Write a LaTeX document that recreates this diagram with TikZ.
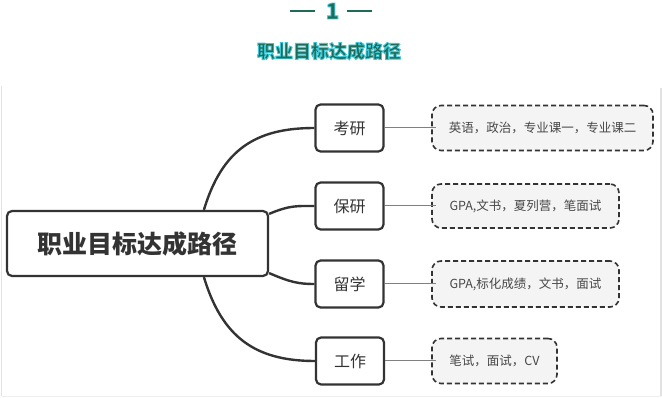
\documentclass[tikz,border=0pt]{standalone}
\usepackage{fontspec}
\setmainfont{Noto Sans CJK SC}
\usetikzlibrary{calc}
\definecolor{tgreen}{HTML}{1F6B57}
\definecolor{torange}{HTML}{F2B184}
\definecolor{tcyan}{HTML}{3FC6D6}
\definecolor{boxline}{HTML}{333333}
\definecolor{leaffill}{HTML}{F4F4F4}
\definecolor{frameline}{HTML}{E2E2E2}
\newcommand{\outlined}[1]{\special{pdf:literal direct 2 Tr 0.9 w 0.247 0.776 0.839 RG}#1\special{pdf:literal direct 0 Tr}}
\tikzset{
  mainbox/.style={draw=boxline, line width=2.2pt, rounded corners=5pt, fill=white,
    minimum width=261pt, minimum height=65pt, inner sep=0pt,
    font=\fontsize{25}{25}\selectfont\bfseries, text=boxline},
  branchbox/.style={draw=boxline, line width=2.2pt, rounded corners=5pt, fill=white,
    minimum width=68pt, minimum height=47pt, inner sep=0pt,
    font=\fontsize{16}{16}\selectfont, text=boxline},
  leafbox/.style={draw=boxline, line width=1.6pt, dash pattern=on 5pt off 3pt,
    rounded corners=9pt, fill=leaffill, minimum height=45pt, inner sep=0pt,
    font=\fontsize{12.5}{12.5}\selectfont, text=black!72},
  trunk/.style={draw=boxline, line width=2.4pt},
  twig/.style={draw=black!50, line width=1pt},
  titletext/.style={inner sep=0pt, text=tgreen, font=\fontsize{18}{18}\selectfont\bfseries},
  numtext/.style={inner sep=0pt, text=tgreen, font=\fontsize{22}{22}\selectfont\bfseries},
  titleline/.style={draw=tgreen, line width=1.2pt}
}
\begin{document}
\begin{tikzpicture}[x=1pt, y=-1pt]
\useasboundingbox (0,0) rectangle (662,398);
% frame of the screenshot
\draw[frameline, line width=1.2pt] (1.5,86) -- (1.5,396);
\draw[frameline, line width=2pt] (661,88) -- (661,396);
\draw[frameline!60, line width=1pt] (1.5,396.5) -- (661,396.5);
% title
\coordinate (tl1) at (290,11);
\coordinate (tl2) at (315,11);
\coordinate (tr1) at (347,11);
\coordinate (tr2) at (372,11);
\draw[titleline] (tl1) -- (tl2);
\draw[titleline] (tr1) -- (tr2);
\node[numtext] (num) at (332.5,11) {\outlined{1}};
\node[titletext] (title) at (329,51) {\outlined{职业目标达成路径}};
% nodes
\node[mainbox] (main) at (137.5,243.5) {职业目标达成路径};
\node[branchbox] (b1) at (349.5,128) {考研};
\node[branchbox] (b2) at (349.5,206) {保研};
\node[branchbox] (b3) at (349.5,284) {留学};
\node[branchbox] (b4) at (350,361) {工作};
\node[leafbox, minimum width=221pt] (l1) at (542.5,128) {英语，政治，专业课一，专业课二};
\node[leafbox, minimum width=187pt, minimum height=44pt] (l2) at (525.5,206) {GPA,文书，夏列营，笔面试};
\node[leafbox, minimum width=187pt, minimum height=46pt] (l3) at (525.5,284) {GPA,标化成绩，文书，面试};
\node[leafbox, minimum width=125pt] (l4) at (494.5,361) {笔试，面试，CV};
% trunks
\draw[trunk] ([xshift=198pt]main.north west) .. controls (222,150) and (255,128) .. (b1.west);
\draw[trunk] ([yshift=-4pt]main.north east) .. controls (290,205) and (298,206) .. (b2.west);
\draw[trunk] ([yshift=4pt]main.south east) .. controls (290,282) and (298,284) .. (b3.west);
\draw[trunk] ([xshift=198pt]main.south west) .. controls (222,337) and (255,361) .. (b4.west);
% twigs
\draw[twig] (b1.east) -- ([xshift=5pt]l1.west);
\draw[twig] (b2.east) -- ([xshift=5pt]l2.west);
\draw[twig] (b3.east) -- ([xshift=5pt]l3.west);
\draw[twig] (b4.east) -- ([xshift=5pt]l4.west);
\end{tikzpicture}
\end{document}
